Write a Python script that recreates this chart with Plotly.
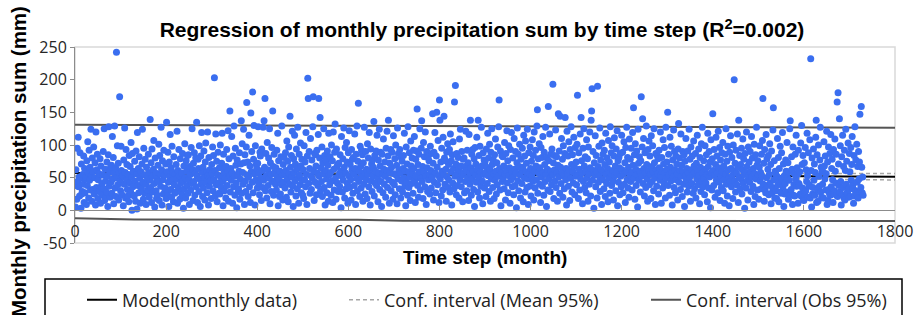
import plotly.graph_objects as go

# Monthly precipitation sum (mm), one value per time step (month 1..1730)
precip = [
    5, 62, 38, 17, 95, 44, 112, 36, 51, 22, 88, 49, 3, 71, 25, 29, 55, 40, 83, 12,
    64, 27, 48, 51, 9, 76, 38, 105, 57, 19, 92, 46, 66, 31, 124, 53, 14, 80, 32, 60,
    97, 25, 50, 73, 8, 120, 35, 62, 86, 18, 47, 29, 56, 30, 79, 11, 68, 37, 41, 23,
    54, 90, 33, 125, 15, 63, 45, 20, 28, 74, 52, 6, 85, 128, 37, 59, 20, 66, 43, 69,
    26, 113, 48, 81, 10, 57, 129, 34, 65, 21, 242, 50, 99, 39, 72, 16, 58, 174, 44, 30,
    98, 61, 24, 52, 53, 7, 77, 40, 126, 58, 19, 93, 47, 70, 32, 22, 55, 13, 84, 42,
    67, 29, 104, 51, 0, 87, 36, 60, 23, 22, 75, 45, 14, 91, 56, 2, 119, 38, 64, 27,
    82, 49, 11, 38, 59, 33, 71, 124, 43, 17, 95, 54, 26, 78, 40, 9, 66, 27, 50, 31,
    86, 58, 20, 46, 139, 35, 73, 12, 94, 52, 28, 63, 107, 41, 5, 80, 57, 30, 18, 48,
    23, 69, 44, 101, 15, 84, 56, 37, 127, 62, 8, 76, 47, 25, 92, 54, 33, 34, 71, 18,
    135, 59, 27, 89, 43, 6, 74, 51, 116, 32, 65, 20, 98, 46, 58, 13, 82, 39, 26, 55,
    28, 70, 48, 121, 11, 61, 35, 93, 53, 17, 79, 42, 28, 57, 24, 87, 45, 3, 68, 33,
    102, 50, 19, 76, 60, 38, 84, 26, 85, 47, 9, 67, 55, 31, 96, 41, 125, 62, 15, 72,
    44, 88, 23, 57, 80, 36, 135, 52, 12, 78, 64, 29, 99, 48, 6, 83, 40, 119, 58, 21,
    66, 34, 91, 50, 16, 74, 103, 43, 59, 27, 120, 53, 8, 81, 37, 62, 52, 45, 18, 70,
    56, 97, 30, 84, 47, 203, 61, 22, 117, 39, 75, 13, 54, 89, 42, 26, 65, 25, 100, 51,
    35, 72, 118, 44, 7, 86, 58, 30, 65, 49, 19, 67, 93, 38, 61, 122, 14, 79, 53, 152,
    28, 64, 46, 113, 57, 11, 83, 36, 129, 52, 23, 95, 69, 42, 4, 77, 55, 28, 33, 60,
    88, 17, 48, 71, 137, 26, 102, 58, 40, 124, 73, 9, 85, 45, 29, 97, 165, 54, 74, 21,
    51, 115, 36, 68, 12, 149, 59, 90, 43, 181, 27, 78, 130, 56, 8, 99, 47, 70, 64, 34,
    72, 128, 41, 57, 24, 89, 83, 50, 15, 94, 61, 35, 127, 46, 137, 66, 171, 30, 87, 53,
    19, 104, 62, 38, 80, 49, 125, 10, 73, 55, 29, 96, 44, 152, 67, 23, 86, 58, 45, 40,
    65, 31, 92, 52, 118, 7, 76, 47, 21, 60, 25, 82, 39, 129, 54, 16, 70, 43, 81, 57,
    34, 88, 61, 20, 106, 48, 75, 13, 97, 56, 40, 144, 66, 28, 84, 51, 121, 37, 6, 79,
    58, 115, 45, 71, 22, 94, 63, 33, 127, 50, 11, 86, 54, 39, 103, 68, 27, 78, 46, 23,
    62, 18, 99, 47, 74, 36, 119, 55, 9, 83, 202, 171, 41, 90, 64, 26, 110, 53, 32, 77,
    49, 128, 174, 60, 15, 87, 43, 85, 68, 24, 92, 57, 38, 116, 171, 52, 80, 142, 30, 65,
    44, 97, 21, 73, 56, 125, 35, 84, 8, 61, 77, 48, 27, 91, 69, 14, 118, 54, 39, 82,
    58, 23, 100, 45, 76, 12, 120, 63, 31, 89, 132, 50, 17, 94, 67, 42, 70, 29, 72, 55,
    37, 85, 60, 4, 113, 52, 28, 79, 46, 126, 66, 19, 96, 57, 33, 104, 74, 41, 11, 88,
    53, 122, 35, 70, 47, 16, 93, 62, 78, 26, 81, 56, 38, 117, 64, 9, 86, 49, 129, 30,
    75, 164, 44, 59, 21, 98, 67, 34, 92, 51, 85, 14, 73, 40, 127, 58, 25, 90, 47, 63,
    18, 102, 55, 80, 36, 119, 61, 8, 94, 45, 71, 29, 77, 53, 66, 136, 22, 84, 42, 60,
    91, 38, 115, 49, 13, 77, 57, 124, 32, 68, 89, 44, 6, 86, 55, 27, 109, 63, 40, 74,
    52, 20, 95, 61, 121, 35, 83, 138, 47, 11, 72, 58, 93, 30, 66, 89, 43, 17, 114, 56,
    39, 79, 24, 100, 54, 69, 10, 126, 48, 87, 62, 33, 93, 57, 19, 81, 45, 75, 28, 64,
    84, 50, 118, 37, 60, 7, 97, 43, 71, 23, 128, 59, 35, 88, 51, 15, 106, 68, 41, 80,
    56, 26, 92, 64, 113, 46, 12, 78, 53, 91, 155, 38, 70, 20, 86, 59, 125, 31, 49, 95,
    137, 44, 67, 18, 104, 58, 82, 36, 120, 52, 9, 90, 65, 29, 81, 47, 76, 55, 25, 98,
    61, 34, 87, 50, 148, 72, 16, 89, 43, 119, 57, 27, 83, 150, 66, 39, 107, 53, 12, 169,
    138, 48, 74, 22, 95, 60, 31, 112, 55, 144, 80, 40, 76, 63, 14, 89, 51, 102, 35, 70,
    46, 93, 28, 117, 59, 76, 8, 85, 42, 105, 64, 33, 166, 52, 191, 71, 24, 87, 56, 38,
    81, 62, 19, 109, 47, 124, 68, 36, 90, 54, 13, 78, 58, 80, 27, 67, 44, 121, 61, 30,
    92, 50, 73, 15, 116, 57, 40, 138, 65, 23, 86, 48, 93, 59, 32, 79, 6, 96, 54, 71,
    43, 112, 63, 28, 138, 51, 84, 19, 98, 60, 37, 127, 68, 45, 10, 88, 55, 77, 34, 74,
    57, 21, 94, 66, 41, 118, 53, 80, 29, 101, 62, 14, 89, 48, 125, 70, 35, 77, 56, 18,
    85, 46, 109, 60, 25, 73, 39, 97, 52, 128, 169, 64, 31, 91, 7, 58, 84, 44, 82, 49,
    68, 33, 104, 55, 16, 87, 61, 122, 42, 76, 27, 99, 53, 65, 11, 93, 47, 119, 59, 36,
    80, 51, 24, 110, 63, 38, 90, 57, 4, 73, 126, 45, 86, 30, 67, 101, 54, 19, 78, 62,
    41, 95, 66, 13, 115, 50, 83, 28, 106, 59, 72, 35, 124, 48, 9, 88, 56, 37, 97, 64,
    22, 75, 53, 108, 44, 84, 16, 120, 60, 34, 92, 68, 47, 129, 154, 26, 79, 57, 102, 40,
    65, 12, 96, 51, 81, 37, 113, 58, 23, 89, 70, 44, 127, 55, 6, 80, 63, 31, 159, 76,
    48, 117, 29, 86, 60, 39, 94, 54, 193, 73, 18, 84, 62, 45, 123, 35, 82, 57, 14, 69,
    148, 51, 91, 26, 144, 66, 41, 110, 58, 78, 20, 99, 53, 33, 87, 142, 47, 64, 8, 121,
    56, 83, 37, 105, 61, 15, 93, 49, 128, 70, 28, 85, 59, 42, 112, 67, 24, 96, 52, 74,
    39, 101, 176, 55, 18, 88, 63, 31, 117, 48, 142, 76, 57, 10, 95, 44, 125, 68, 35, 82,
    60, 27, 108, 50, 79, 14, 97, 56, 40, 120, 65, 22, 138, 152, 186, 46, 90, 61, 3, 73,
    54, 114, 36, 84, 59, 19, 190, 67, 43, 98, 52, 126, 29, 77, 62, 9, 103, 47, 86, 58,
    33, 92, 70, 21, 118, 55, 41, 80, 64, 13, 107, 49, 74, 26, 128, 57, 88, 38, 99, 61,
    45, 16, 83, 111, 53, 68, 30, 94, 58, 122, 7, 76, 43, 81, 65, 24, 87, 52, 36, 115,
    62, 89, 27, 56, 105, 40, 73, 12, 96, 59, 127, 47, 81, 34, 66, 20, 109, 54, 78, 44,
    95, 58, 31, 119, 69, 157, 49, 85, 17, 102, 63, 38, 91, 55, 5, 124, 72, 46, 82, 60,
    28, 76, 174, 52, 97, 140, 41, 110, 64, 22, 88, 57, 35, 129, 70, 48, 14, 93, 61, 106,
    39, 83, 55, 18, 114, 67, 44, 99, 59, 30, 125, 73, 50, 9, 87, 62, 37, 84, 56, 79,
    25, 92, 65, 46, 120, 53, 11, 81, 60, 34, 108, 71, 42, 96, 57, 19, 127, 49, 74, 63,
    150, 38, 86, 54, 23, 112, 66, 45, 98, 58, 8, 77, 51, 123, 35, 90, 62, 27, 83, 47,
    71, 56, 16, 94, 133, 43, 80, 61, 32, 117, 52, 69, 21, 90, 59, 40, 85, 6, 75, 53,
    110, 46, 64, 28, 91, 57, 37, 124, 50, 78, 14, 97, 62, 41, 83, 55, 26, 106, 68, 33,
    58, 87, 19, 72, 48, 115, 60, 39, 94, 53, 10, 81, 66, 29, 102, 45, 127, 57, 36, 76,
    49, 24, 99, 63, 42, 85, 55, 13, 118, 67, 34, 90, 51, 74, 4, 108, 58, 31, 79, 148,
    61, 38, 93, 54, 20, 70, 112, 46, 83, 57, 27, 121, 65, 43, 96, 15, 77, 52, 35, 88,
    59, 104, 30, 68, 47, 11, 86, 56, 125, 40, 75, 22, 98, 62, 50, 7, 89, 44, 114, 64,
    36, 81, 53, 18, 100, 60, 200, 45, 72, 28, 92, 57, 39, 117, 66, 12, 138, 51, 84, 33,
    70, 48, 95, 25, 62, 109, 41, 78, 55, 3, 87, 58, 34, 120, 67, 46, 16, 97, 53, 74,
    43, 90, 59, 29, 113, 51, 80, 37, 64, 9, 101, 56, 21, 85, 48, 127, 69, 31, 76, 54,
    17, 66, 99, 45, 58, 33, 86, 52, 107, 171, 40, 72, 14, 93, 31, 27, 116, 50, 79, 38,
    63, 84, 24, 55, 102, 42, 70, 10, 91, 27, 35, 123, 157, 47, 76, 19, 60, 56, 30, 18,
    52, 110, 39, 81, 13, 64, 44, 98, 28, 26, 88, 49, 119, 36, 71, 6, 53, 25, 41, 77,
    60, 28, 104, 50, 73, 17, 59, 46, 125, 137, 24, 32, 82, 63, 9, 97, 23, 39, 56, 22,
    86, 48, 115, 37, 65, 55, 11, 92, 41, 38, 59, 25, 103, 22, 130, 70, 34, 84, 17, 15,
    73, 27, 96, 30, 62, 44, 118, 53, 20, 88, 37, 39, 108, 19, 232, 61, 5, 80, 25, 35,
    94, 46, 71, 23, 58, 112, 138, 12, 85, 31, 14, 100, 52, 37, 77, 127, 28, 66, 20, 60,
    40, 59, 19, 105, 68, 48, 83, 31, 56, 121, 9, 74, 15, 97, 32, 26, 87, 23, 116, 36,
    64, 78, 47, 12, 93, 25, 30, 109, 60, 42, 86, 23, 166, 21, 180, 71, 38, 140, 28, 99,
    44, 8, 82, 24, 115, 35, 67, 19, 92, 16, 61, 124, 40, 75, 27, 27, 103, 20, 33, 87,
    59, 21, 96, 46, 70, 113, 38, 33, 11, 84, 22, 128, 30, 77, 25, 101, 43, 67, 19, 90,
    48, 74, 147, 28, 35, 159, 66, 27, 51, 23,
]
time_step = list(range(1, len(precip) + 1))

# Regression line and confidence bands
model_x = [0, 1800]
model_y = [57, 51.5]
mean_ci_x = [0, 900, 1800]
mean_ci_upper = [61.5, 56.3, 56.5]
mean_ci_lower = [52.5, 52.2, 46.5]
obs_up_x = [0, 900, 1330, 1800]
obs_up_y = [131, 128.5, 127, 126.5]
obs_lo_x = [0, 130, 620, 720, 1800]
obs_lo_y = [-12, -14, -14.5, -16, -16.5]

x_ticks = [0, 200, 400, 600, 800, 1000, 1200, 1400, 1600, 1800]
y_ticks = [-50, 0, 50, 100, 150, 200, 250]

W, H = 917, 315
ML, MR, MT, MB = 75, 22, 47, 72
PW, PH = W - ML - MR, H - MT - MB


def px_x(p):
    return (p - ML) / PW


def px_y(p):
    return (H - MB - p) / PH


TICK_FONT = dict(family="Open Sans", size=16, color="#262626")
BOLD = dict(family="Liberation Sans", weight="bold", color="#000000")
LEG_FONT = dict(family="Open Sans", size=18, color="#222222")

fig = go.Figure()

fig.add_trace(go.Scatter(x=obs_up_x, y=obs_up_y, mode="lines", name="Conf. interval (Obs 95%)",
                         line=dict(color="#555555", width=2), legend="legend3",
                         legendgroup="obs", showlegend=True, hoverinfo="skip"))
fig.add_trace(go.Scatter(x=obs_lo_x, y=obs_lo_y, mode="lines", name="Conf. interval (Obs 95%)",
                         line=dict(color="#555555", width=2), legend="legend3",
                         legendgroup="obs", showlegend=False, hoverinfo="skip"))
fig.add_trace(go.Scatter(x=mean_ci_x, y=mean_ci_upper, mode="lines", name="Conf. interval (Mean 95%)",
                         line=dict(color="#a6a6a6", width=1.5, dash="4px,3px"), legend="legend2",
                         legendgroup="mean", showlegend=True, hoverinfo="skip"))
fig.add_trace(go.Scatter(x=mean_ci_x, y=mean_ci_lower, mode="lines", name="Conf. interval (Mean 95%)",
                         line=dict(color="#a6a6a6", width=1.5, dash="4px,3px"), legend="legend2",
                         legendgroup="mean", showlegend=False, hoverinfo="skip"))
fig.add_trace(go.Scatter(x=model_x, y=model_y, mode="lines", name="Model(monthly data)",
                         line=dict(color="#000000", width=2), legend="legend",
                         showlegend=True, hoverinfo="skip"))
fig.add_trace(go.Scatter(x=time_step, y=precip, mode="markers", name="Monthly precipitation",
                         marker=dict(color="#3a6ef0", size=7, line=dict(width=0)),
                         showlegend=False))

fig.update_layout(
    width=W, height=H,
    margin=dict(l=ML, r=MR, t=MT, b=MB, autoexpand=False),
    plot_bgcolor="white", paper_bgcolor="white",
    title=dict(text="Regression of monthly precipitation sum by time step (R<sup>2</sup>=0.002)",
               x=482 / W, xanchor="center", y=1 - 30 / H, yanchor="middle",
               font=dict(size=21, **BOLD)),
    xaxis=dict(range=[0, 1800], tickvals=x_ticks, ticktext=[str(v) for v in x_ticks],
               anchor="free", position=50 / 300,
               showline=True, linecolor="#8c8c8c", linewidth=1,
               ticks="inside", ticklen=5, tickcolor="#8c8c8c", ticklabelstandoff=6,
               showgrid=False, zeroline=False, tickfont=TICK_FONT),
    yaxis=dict(range=[-50, 250], tickvals=y_ticks, ticktext=[str(v) for v in y_ticks],
               showline=True, linecolor="#8c8c8c", linewidth=1,
               ticks="outside", ticklen=4, tickcolor="#8c8c8c",
               showgrid=False, zeroline=False, tickfont=TICK_FONT),
    legend=dict(x=px_x(82), y=px_y(300), xanchor="left", yanchor="middle", orientation="h",
                bgcolor="rgba(0,0,0,0)", borderwidth=0, font=LEG_FONT),
    legend2=dict(x=px_x(344), y=px_y(300), xanchor="left", yanchor="middle", orientation="h",
                 bgcolor="rgba(0,0,0,0)", borderwidth=0, font=LEG_FONT),
    legend3=dict(x=px_x(646), y=px_y(300), xanchor="left", yanchor="middle", orientation="h",
                 bgcolor="rgba(0,0,0,0)", borderwidth=0, font=LEG_FONT),
    shapes=[
        dict(type="rect", xref="paper", yref="paper", x0=0, x1=1, y0=0, y1=1,
             line=dict(color="#d9d9d9", width=1.5), layer="below"),
        dict(type="rect", xref="paper", yref="paper", x0=px_x(45), x1=px_x(902),
             y0=px_y(279), y1=px_y(340), line=dict(color="#000000", width=1.5)),
    ],
    annotations=[
        dict(text="Time step (month)", xref="paper", yref="paper", x=0.5, y=px_y(257),
             xanchor="center", yanchor="middle", showarrow=False, font=dict(size=19, **BOLD)),
        dict(text="Monthly precipitation sum (mm)", xref="paper", yref="paper",
             x=px_x(18), y=px_y(162), xanchor="center", yanchor="middle", textangle=-90,
             showarrow=False, font=dict(size=20.5, **BOLD)),
    ],
)

# remove the browser's default 8px page margin so the figure sits at the window's top-left
fig.write_html("out.html", config={"displayModeBar": False},
               post_script="document.body.style.margin='0';")
